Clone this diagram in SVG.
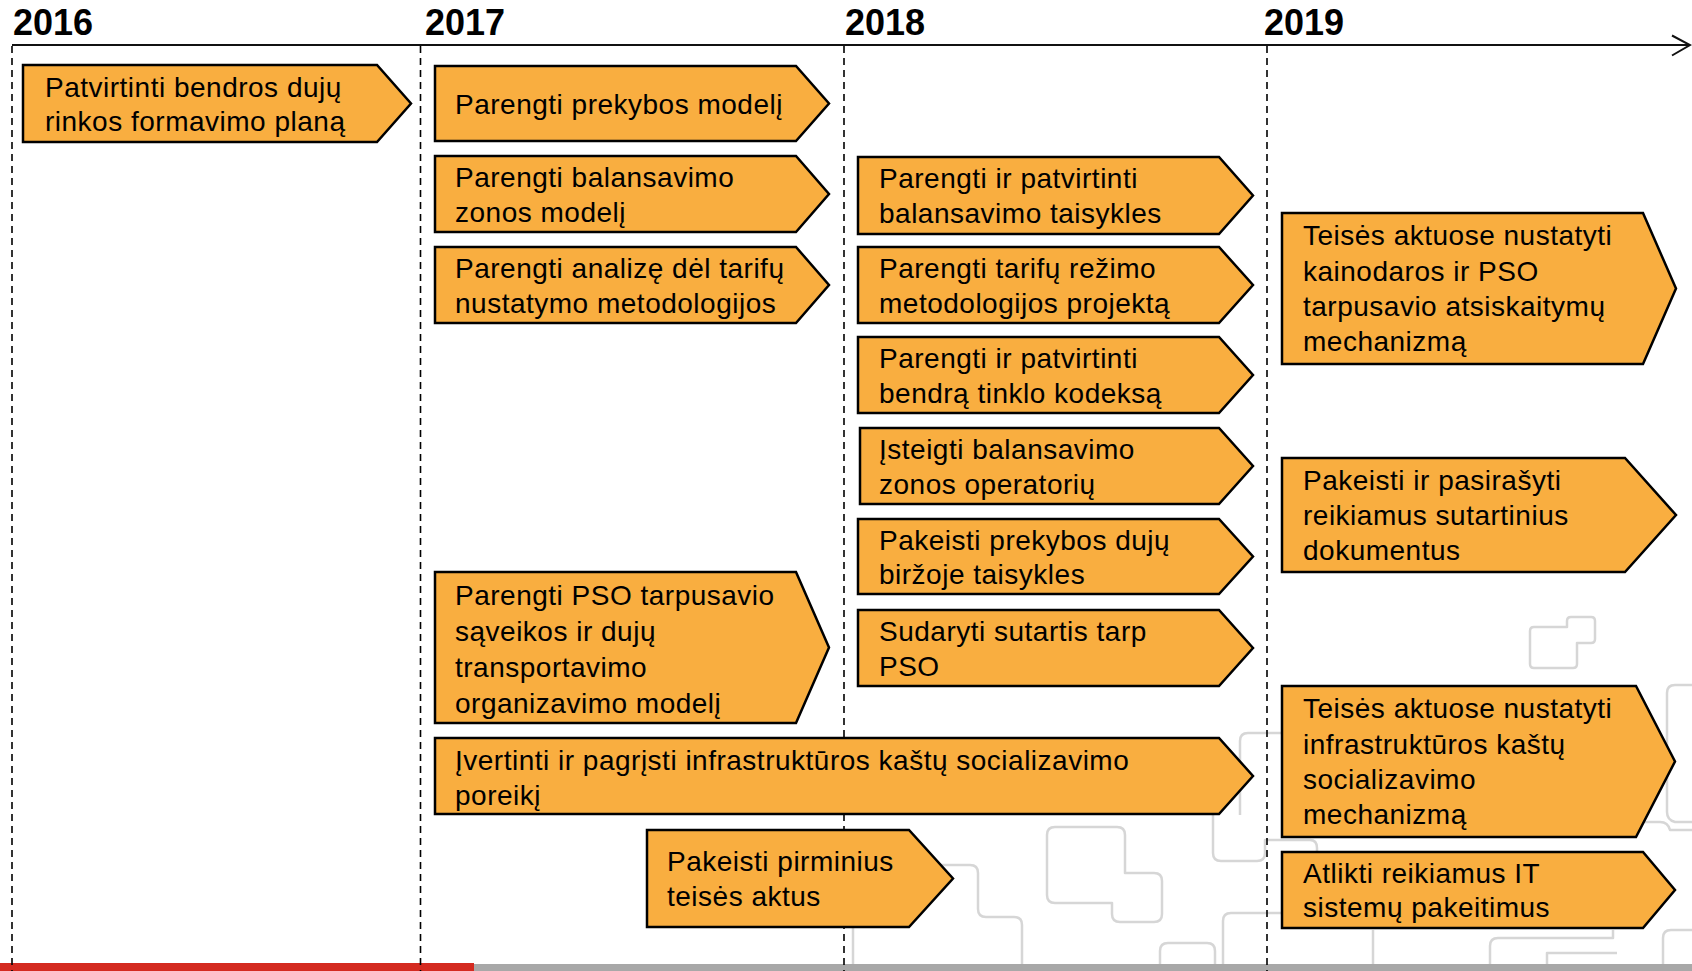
<svg xmlns="http://www.w3.org/2000/svg" width="1692" height="971" viewBox="0 0 1692 971">
<style>
.bg{fill:none;stroke:#d6d6d6;stroke-width:2.5;stroke-linejoin:round}
.box{fill:#F9AE40;stroke:#000;stroke-width:2.5;stroke-linejoin:miter}
.t{font-family:"Liberation Sans",Arial,sans-serif;font-size:28px;letter-spacing:0.5px;fill:#000}
.yr{font-family:"Liberation Sans",Arial,sans-serif;font-size:36px;font-weight:bold;fill:#000}
.dash{stroke:#000;stroke-width:1.6;stroke-dasharray:7,5;fill:none}
</style>
<rect x="0" y="0" width="1692" height="971" fill="#fff"/>
<g id="background">
<path class="bg" d="M1534,627 H1567 V621 Q1567,617 1571,617 H1591 Q1595,617 1595,621 V639 Q1595,643 1591,643 H1577 V664 Q1577,668 1573,668 H1534 Q1530,668 1530,664 V631 Q1530,627 1534,627 Z"/>
<path class="bg" d="M1692,685 H1675 Q1667,685 1667,693 V812 Q1667,820 1675,822 H1692"/>
<path class="bg" d="M1643,822 H1660 Q1668,822 1670,830 H1692"/>
<path class="bg" d="M1300,733 H1248 Q1240,733 1240,741 V815"/>
<path class="bg" d="M1213,815 V853 Q1213,861 1221,861 H1257 Q1265,861 1265,853 V840 H1310 Q1317,840 1317,848 V858"/>
<path class="bg" d="M1055,827 H1117 Q1125,827 1125,835 V873 H1154 Q1162,873 1162,881 V914 Q1162,922 1154,922 H1120 Q1112,922 1112,914 V903 H1055 Q1047,903 1047,895 V835 Q1047,827 1055,827 Z"/>
<path class="bg" d="M853,965 V873 Q853,865 861,865 H970 Q978,865 978,873 V909 Q978,917 986,917 H1014 Q1022,917 1022,925 V965"/>
<path class="bg" d="M1223,965 V921 Q1223,913 1231,913 H1290"/>
<path class="bg" d="M1160,965 V951 Q1160,943 1168,943 H1207 Q1215,943 1215,951 V965"/>
<path class="bg" d="M1373,930 V965"/>
<path class="bg" d="M1490,965 V946 Q1490,938 1498,938 H1613 V930"/>
<path class="bg" d="M1663,965 V938 Q1663,930 1671,930 H1692"/>
<path class="bg" d="M1547,965 V953 H1617"/>
</g>
<rect x="0" y="964" width="1692" height="7" fill="#a8a8a8"/>
<rect x="0" y="963" width="474" height="8" fill="#d42a20"/>
<g id="axis">
<line x1="12" y1="45" x2="1689" y2="45" stroke="#111" stroke-width="2"/>
<polyline points="1672,35.5 1690,45 1672,55.5" fill="none" stroke="#111" stroke-width="2"/>
<line class="dash" x1="12" y1="46" x2="12" y2="971"/>
<line class="dash" x1="420.5" y1="46" x2="420.5" y2="971"/>
<line class="dash" x1="844" y1="46" x2="844" y2="971"/>
<line class="dash" x1="1267" y1="46" x2="1267" y2="971"/>
<text class="yr" x="13" y="35">2016</text>
<text class="yr" x="425" y="35">2017</text>
<text class="yr" x="845" y="35">2018</text>
<text class="yr" x="1264" y="35">2019</text>
</g>
<g id="connectors"></g>
<g id="n1"><polygon class="box" points="23,65 377,65 411,103.5 377,142 23,142"/><text class="t" x="45" y="96.5">Patvirtinti bendros dujų</text><text class="t" x="45" y="130.5">rinkos formavimo planą</text></g>
<g id="n2"><polygon class="box" points="435,66 796,66 829,103.5 796,141 435,141"/><text class="t" x="455" y="113.5">Parengti prekybos modelį</text></g>
<g id="n3"><polygon class="box" points="435,156 796,156 829,194 796,232 435,232"/><text class="t" x="455" y="187">Parengti balansavimo</text><text class="t" x="455" y="221.5">zonos modelį</text></g>
<g id="n4"><polygon class="box" points="435,247 796,247 829,285 796,323 435,323"/><text class="t" x="455" y="278">Parengti analizę dėl tarifų</text><text class="t" x="455" y="312.5">nustatymo metodologijos</text></g>
<g id="n5"><polygon class="box" points="435,572 796,572 829,647.5 796,723 435,723"/><text class="t" x="455" y="605">Parengti PSO tarpusavio</text><text class="t" x="455" y="641">sąveikos ir dujų</text><text class="t" x="455" y="677">transportavimo</text><text class="t" x="455" y="713">organizavimo modelį</text></g>
<g id="n6"><polygon class="box" points="435,738 1219,738 1253,776 1219,814 435,814"/><text class="t" x="455" y="770">Įvertinti ir pagrįsti infrastruktūros kaštų socializavimo</text><text class="t" x="455" y="805">poreikį</text></g>
<g id="n7"><polygon class="box" points="647,830 909,830 953,878.5 909,927 647,927"/><text class="t" x="667" y="871">Pakeisti pirminius</text><text class="t" x="667" y="906">teisės aktus</text></g>
<g id="n8"><polygon class="box" points="858,157 1219,157 1253,195.5 1219,234 858,234"/><text class="t" x="879" y="188">Parengti ir patvirtinti</text><text class="t" x="879" y="222.5">balansavimo taisykles</text></g>
<g id="n9"><polygon class="box" points="858,247 1219,247 1253,285 1219,323 858,323"/><text class="t" x="879" y="278">Parengti tarifų režimo</text><text class="t" x="879" y="312.5">metodologijos projektą</text></g>
<g id="n10"><polygon class="box" points="858,337 1219,337 1253,375 1219,413 858,413"/><text class="t" x="879" y="368">Parengti ir patvirtinti</text><text class="t" x="879" y="402.5">bendrą tinklo kodeksą</text></g>
<g id="n11"><polygon class="box" points="860,428 1219,428 1253,466 1219,504 860,504"/><text class="t" x="879" y="459">Įsteigti balansavimo</text><text class="t" x="879" y="493.5">zonos operatorių</text></g>
<g id="n12"><polygon class="box" points="858,519 1219,519 1253,556.5 1219,594 858,594"/><text class="t" x="879" y="549.5">Pakeisti prekybos dujų</text><text class="t" x="879" y="584">biržoje taisykles</text></g>
<g id="n13"><polygon class="box" points="858,610 1219,610 1253,648 1219,686 858,686"/><text class="t" x="879" y="641">Sudaryti sutartis tarp</text><text class="t" x="879" y="675.5">PSO</text></g>
<g id="n14"><polygon class="box" points="1282,213 1643,213 1676,288.5 1643,364 1282,364"/><text class="t" x="1303" y="245">Teisės aktuose nustatyti</text><text class="t" x="1303" y="281">kainodaros ir PSO</text><text class="t" x="1303" y="316">tarpusavio atsiskaitymų</text><text class="t" x="1303" y="351">mechanizmą</text></g>
<g id="n15"><polygon class="box" points="1282,458 1625,458 1676,515 1625,572 1282,572"/><text class="t" x="1303" y="490">Pakeisti ir pasirašyti</text><text class="t" x="1303" y="525">reikiamus sutartinius</text><text class="t" x="1303" y="560">dokumentus</text></g>
<g id="n16"><polygon class="box" points="1282,686 1636,686 1675,761.5 1636,837 1282,837"/><text class="t" x="1303" y="718">Teisės aktuose nustatyti</text><text class="t" x="1303" y="753.5">infrastruktūros kaštų</text><text class="t" x="1303" y="789">socializavimo</text><text class="t" x="1303" y="823.5">mechanizmą</text></g>
<g id="n17"><polygon class="box" points="1282,852 1643,852 1675,890 1643,928 1282,928"/><text class="t" x="1303" y="882.5">Atlikti reikiamus IT</text><text class="t" x="1303" y="917">sistemų pakeitimus</text></g>
</svg>
